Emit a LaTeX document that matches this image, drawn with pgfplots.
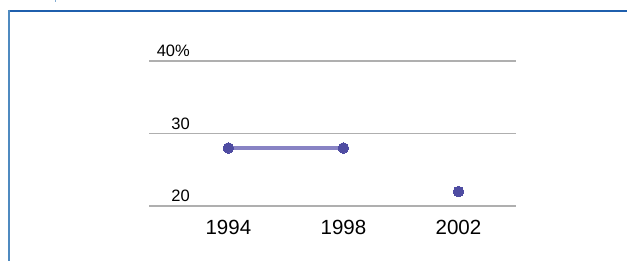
\documentclass[border=0pt]{standalone}
\usepackage{pgfplots}
\pgfplotsset{compat=1.18}
\usepackage{fontspec}
\setmainfont{Liberation Sans}
\definecolor{frametop}{HTML}{1F5FAD}
\definecolor{frameleft}{HTML}{4F8AC0}
\definecolor{lineC}{HTML}{8883C4}
\definecolor{markC}{HTML}{4F4CA2}
\definecolor{gridC}{HTML}{AFAFAF}
\begin{document}
\begin{tikzpicture}[x=1pt,y=1pt]
\useasboundingbox (0,0) rectangle (627,261);
\fill[white] (0,0) rectangle (627,261);
% frame
\draw[frametop, line width=2pt] (8,250) -- (627,250);
\draw[frameleft, line width=2pt] (9,251) -- (9,0);
\draw[frameleft!70, line width=1pt] (55,261) -- (55,258.5);
\begin{axis}[
  scale only axis,
  width=367pt, height=145pt,
  at={(149pt,55pt)}, anchor=south west,
  xmin=1991.24, xmax=2004.0,
  ymin=20, ymax=40,
  axis line style={draw=none},
  major tick length=0pt,
  xtick={1994,1998,2002},
  xticklabels={1994,1998,2002},
  ytick={20,30,40},
  yticklabels={20,30,40\%},
  ymajorgrids,
  grid style={gridC, line width=1.2pt},
  /pgf/number format/assume math mode=true,
  xticklabel style={anchor=base, yshift=-29pt, inner sep=0pt, font=\fontsize{20.5}{24}\selectfont},
  yticklabel style={anchor=base east, xshift=41pt, yshift=4pt, inner sep=0pt, font=\fontsize{16.5}{19}\selectfont},
  clip=false,
]
\addplot[lineC, line width=3.5pt, mark=*, mark size=5.3pt, mark options={draw=markC, fill=markC, line width=0pt}]
  coordinates {(1994,28) (1998,28)};
\addplot[only marks, mark=*, mark size=5.3pt, mark options={draw=markC, fill=markC, line width=0pt}]
  coordinates {(2002,22)};
\end{axis}
\end{tikzpicture}
\end{document}
